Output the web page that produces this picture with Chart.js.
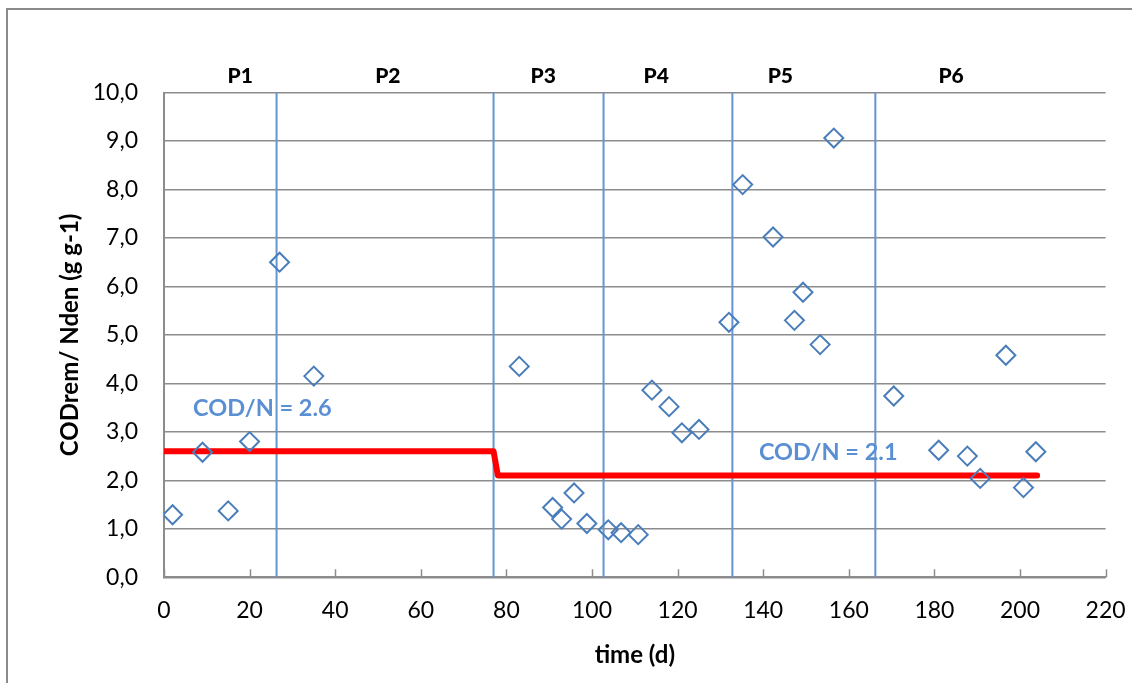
<!DOCTYPE html>
<html>
<head>
<meta charset="utf-8">
<script src="https://cdn.jsdelivr.net/npm/chart.js@4"></script>
<style>
html,body{margin:0;padding:0;background:#fff;}
canvas{display:block;}
</style>
</head>
<body>
<canvas id="c" width="1132" height="683"></canvas>
<script>
// ---- data ----
const days  = [2, 9, 15, 20, 27, 35, 83, 90.8, 92.9, 95.8, 98.8, 103.8, 106.8, 110.8, 114, 118, 121, 125, 132, 135.2, 142.3, 147.3, 149.3, 153.3, 156.5, 170.5, 181, 187.7, 190.7, 196.7, 200.8, 203.7];
const ratio = [1.29, 2.58, 1.37, 2.80, 6.50, 4.15, 4.35, 1.44, 1.20, 1.74, 1.11, 0.98, 0.92, 0.88, 3.86, 3.52, 2.98, 3.05, 5.26, 8.10, 7.02, 5.30, 5.88, 4.80, 9.06, 3.74, 2.62, 2.50, 2.04, 4.58, 1.85, 2.59];
const targetDays  = [0, 77, 78, 204];
const targetRatio = [2.6, 2.6, 2.1, 2.1];
const phaseBounds = [26.3, 77, 102.7, 132.8, 166.2];
const phaseNames  = ['P1', 'P2', 'P3', 'P4', 'P5', 'P6'];
const phaseCenters = [17.8, 52.3, 88.6, 115, 144, 183.9];
const notes = [
  {text: 'COD/N = 2.6', x: 6.8, y: 3.49},
  {text: 'COD/N = 2.1', x: 139, y: 2.58}
];
const yTicks = [0,1,2,3,4,5,6,7,8,9,10];
const xTicks = [0,20,40,60,80,100,120,140,160,180,200,220];

const FONT = 'Lato, "Open Sans", sans-serif';
const GRID = '#8c8c8c';
const BLUE = '#4a7ebb';
const VBLUE = '#6595d0';

const datasets = [];
datasets.push({
  type: 'scatter',
  data: days.map((d, i) => ({x: d, y: ratio[i]})),
  pointStyle: 'rectRot',
  pointRadius: 9.5,
  pointHoverRadius: 9.5,
  pointBorderColor: BLUE,
  pointBackgroundColor: 'rgba(255,255,255,0)',
  pointBorderWidth: 2,
  showLine: false,
  order: 0
});
datasets.push({
  type: 'line',
  data: targetDays.map((d, i) => ({x: d, y: targetRatio[i]})),
  borderColor: '#ff0000',
  borderWidth: 6,
  borderCapStyle: 'round',
  borderJoinStyle: 'round',
  pointRadius: 0,
  fill: false,
  tension: 0,
  order: 1
});
phaseBounds.forEach(b => {
  datasets.push({
    type: 'line',
    data: [{x: b, y: 0}, {x: b, y: 10}],
    borderColor: VBLUE,
    borderWidth: 2,
    pointRadius: 0,
    fill: false,
    order: 2
  });
});

const decor = {
  id: 'decor',
  beforeDraw(chart) {
    const ctx = chart.ctx;
    ctx.save();
    ctx.strokeStyle = '#8a8a8a';
    ctx.lineWidth = 2;
    ctx.beginPath();
    ctx.moveTo(7, 2000);
    ctx.lineTo(7, 9);
    ctx.lineTo(2000, 9);
    ctx.stroke();
    ctx.restore();
  },
  afterDatasetsDraw(chart) {
    const ctx = chart.ctx;
    const xs = chart.scales.x, ys = chart.scales.y;
    ctx.save();
    // inside tick marks on x axis
    ctx.strokeStyle = GRID;
    ctx.lineWidth = 1.5;
    const b = chart.chartArea.bottom;
    xTicks.forEach(t => {
      const px = Math.round(xs.getPixelForValue(t)) + 0.5;
      ctx.beginPath();
      ctx.moveTo(px, b);
      ctx.lineTo(px, b - 8);
      ctx.stroke();
    });
    // phase labels
    ctx.fillStyle = '#000';
    ctx.font = '900 21px ' + FONT;
    ctx.textAlign = 'center';
    ctx.textBaseline = 'middle';
    phaseNames.forEach((n, i) => {
      ctx.fillText(n, xs.getPixelForValue(phaseCenters[i]), chart.chartArea.top - 16);
    });
    // notes
    ctx.fillStyle = '#5b8fd4';
    ctx.font = 'bold 23.5px ' + FONT;
    ctx.textAlign = 'left';
    notes.forEach(n => {
      ctx.fillText(n.text, xs.getPixelForValue(n.x), ys.getPixelForValue(n.y));
    });
    ctx.restore();
  }
};

new Chart(document.getElementById('c'), {
  data: {datasets},
  options: {
    responsive: false,
    devicePixelRatio: 1,
    animation: false,
    events: [],
    layout: {padding: {left: 0, right: 26.4, top: 92.5, bottom: 0}},
    plugins: {legend: {display: false}, tooltip: {enabled: false}},
    scales: {
      x: {
        type: 'linear',
        min: 0, max: 220,
        afterBuildTicks: s => { s.ticks = xTicks.map(v => ({value: v})); },
        afterFit: s => { s.height = 683 - 577.3; s.paddingLeft = 0; s.paddingRight = 0; },
        grid: {display: false, drawTicks: false},
        border: {display: true, color: GRID, width: 2},
        ticks: {
          color: '#000',
          font: {family: FONT, size: 23},
          padding: 19,
          maxRotation: 0,
          callback: v => String(v)
        },
        title: {
          display: true,
          text: 'time (d)',
          color: '#000',
          font: {family: FONT, size: 24, weight: 'bold'},
          padding: {top: 0, bottom: 13.6}
        }
      },
      y: {
        type: 'linear',
        min: 0, max: 10,
        afterBuildTicks: s => { s.ticks = yTicks.map(v => ({value: v})); },
        afterFit: s => { s.width = 164; s.paddingTop = 0; s.paddingBottom = 0; },
        grid: {color: GRID, lineWidth: 1.5, drawTicks: false},
        border: {display: true, color: GRID, width: 2},
        ticks: {
          color: '#000',
          font: {family: FONT, size: 23},
          padding: 26,
          callback: v => v.toFixed(1).replace('.', ',')
        },
        title: {
          display: true,
          text: 'CODrem/ Nden (g g-1)',
          color: '#000',
          font: {family: FONT, size: 24, weight: 'bold'},
          padding: {top: 55.6, bottom: 0}
        }
      }
    }
  },
  plugins: [decor]
});
</script>
</body>
</html>
